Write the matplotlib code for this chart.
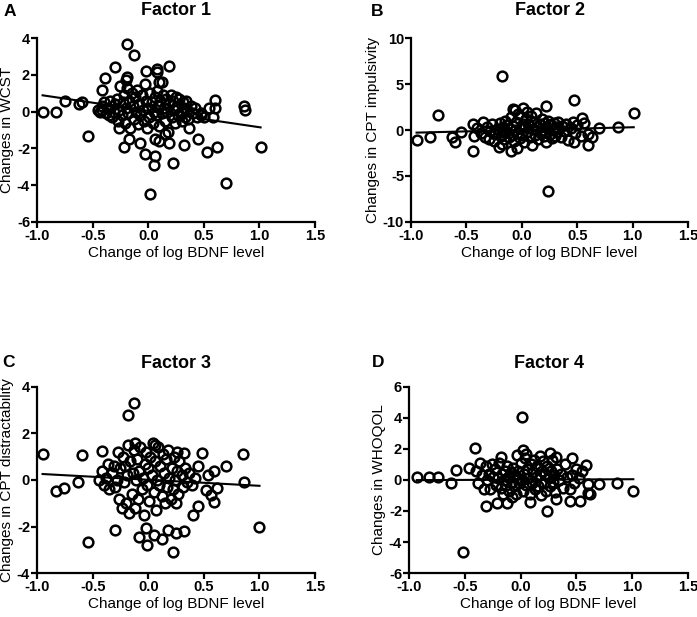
import numpy as np
import matplotlib
matplotlib.use("Agg")
import matplotlib.pyplot as plt

plt.rcParams['font.family'] = ['Liberation Sans', 'DejaVu Sans']

# ---- data: (change of log BDNF, change in score) ----
f1_pts = [(-0.95, 0.0), (-0.83, 0.0), (-0.75, 0.6), (-0.62, 0.4), (-0.60, 0.5), (-0.54, -1.3),
          (-0.42, 1.2), (-0.39, 1.8), (-0.42, 0.1), (-0.30, 2.4), (-0.26, -0.9), (-0.22, -1.9),
          (-0.19, 3.7), (-0.13, 3.1), (-0.19, 1.9), (-0.17, -1.5), (-0.07, -1.7), (-0.02, 2.2),
          (0.08, 2.3), (0.08, 2.15), (0.19, 2.5), (0.12, 1.6), (-0.03, -2.3), (0.06, -2.4),
          (0.05, -2.9), (0.02, -4.5), (0.06, -1.5), (0.10, -1.6), (0.19, -1.7), (0.22, -2.8),
          (0.32, -1.8), (0.37, -0.9), (0.45, -1.5), (0.53, -2.2), (0.62, -1.9), (0.70, -3.9),
          (1.01, -1.9), (0.86, 0.3), (0.87, 0.1), (0.60, 0.65), (0.60, 0.2), (0.55, 0.2),
          (0.58, -0.3), (0.47, -0.1),
          (-0.45, 0.1), (-0.42, 0.3), (-0.40, 0.5), (-0.38, -0.1), (-0.36, 0.2), (-0.34, 0.6),
          (-0.33, -0.3), (-0.31, 0.0), (-0.30, 0.4), (-0.28, 0.7), (-0.27, -0.5), (-0.26, 0.1),
          (-0.25, 1.4), (-0.24, -0.2), (-0.23, 0.5), (-0.22, 0.9), (-0.21, -0.6), (-0.20, 0.2),
          (-0.19, 1.3), (-0.18, -0.1), (-0.17, 0.6), (-0.16, -0.9), (-0.15, 1.0), (-0.14, 0.3),
          (-0.13, -0.4), (-0.12, 0.8), (-0.11, 0.0), (-0.10, 1.2), (-0.09, -0.7), (-0.08, 0.4),
          (-0.07, -0.2), (-0.06, 0.9), (-0.05, 0.1), (-0.04, -0.5), (-0.03, 1.5), (-0.02, 0.6),
          (-0.01, -0.9), (0.00, 0.2), (0.01, -0.3), (0.02, 1.0), (0.03, 0.5), (0.04, -0.6),
          (0.05, 0.0), (0.06, 0.8), (0.07, -0.2), (0.08, 1.1), (0.09, 0.3), (0.10, -0.8),
          (0.11, 0.6), (0.12, -0.1), (0.13, 0.9), (0.14, 0.2), (0.15, -0.5), (0.16, 0.7),
          (0.17, 0.0), (0.18, -1.1), (0.19, 0.4), (0.20, 0.9), (0.21, -0.3), (0.22, 0.6),
          (0.23, 0.1), (0.24, -0.6), (0.25, 0.8), (0.26, 0.3), (0.27, -0.2), (0.28, 0.7),
          (0.29, 0.0), (0.30, -0.5), (0.31, 0.5), (0.32, 0.2), (0.33, -0.3), (0.34, 0.6),
          (0.35, 0.1), (0.36, -0.4), (0.38, 0.3), (0.40, -0.1), (0.42, 0.2), (0.44, -0.3),
          (0.47, -0.2), (0.50, -0.3), (-0.43, 0.0), (-0.35, -0.2), (0.10, 1.6), (-0.20, 1.7),
          (0.15, -1.2)]

f2_pts = [(-0.95, -1.1), (-0.83, -0.8), (-0.76, 1.6), (-0.63, -0.8), (-0.60, -1.3), (-0.55, -0.25),
          (-0.44, -2.25), (-0.44, 0.65), (-0.43, -0.65), (-0.18, 5.9), (-0.06, 2.2), (0.01, 2.35),
          (0.22, 2.65), (0.47, 3.3), (0.24, -6.6), (1.01, 1.9), (0.87, 0.36), (0.70, 0.25),
          (0.60, -1.6), (0.63, -0.8), (0.60, -0.4), (0.54, 1.3), (0.46, 0.9), (0.47, -1.3),
          (-0.18, -1.5), (-0.10, -2.3), (-0.04, -2.0),
          (-0.40, 0.2), (-0.37, -0.3), (-0.35, 0.9), (-0.33, -0.8), (-0.31, 0.3), (-0.29, -0.1),
          (-0.27, 0.6), (-0.25, -1.2), (-0.24, -0.4), (-0.22, 0.1), (-0.21, -1.8), (-0.20, 0.8),
          (-0.19, -0.6), (-0.17, 0.3), (-0.16, -1.0), (-0.15, 1.0), (-0.14, -0.2), (-0.13, 0.5),
          (-0.12, -0.8), (-0.11, 0.1), (-0.10, 1.4), (-0.09, -0.5), (-0.08, 0.4), (-0.07, -1.2),
          (-0.06, 0.0), (-0.05, 0.9), (-0.04, -0.3), (-0.03, 1.7), (-0.02, -0.9), (-0.01, 0.2),
          (0.00, -0.5), (0.01, 0.7), (0.02, -1.3), (0.03, 0.3), (0.04, 1.2), (0.05, -0.2),
          (0.06, 0.6), (0.07, -0.8), (0.08, 1.5), (0.09, -1.6), (0.10, 0.1), (0.11, 0.9),
          (0.12, -0.5), (0.13, 1.9), (0.14, 0.3), (0.15, -1.0), (0.16, 0.6), (0.17, -0.3),
          (0.18, 1.2), (0.19, 0.0), (0.20, -0.7), (0.21, 0.8), (0.22, -1.3), (0.23, 0.2),
          (0.24, 1.0), (0.25, -0.4), (0.26, 0.5), (0.27, -0.9), (0.28, 0.0), (0.29, 0.8),
          (0.30, -0.6), (0.31, 0.3), (0.32, -0.2), (0.33, 0.9), (0.35, -0.8), (0.36, 0.4),
          (0.38, -0.1), (0.40, 0.6), (0.42, -1.1), (0.44, 0.2), (0.48, -0.3), (0.50, 0.5),
          (0.53, -0.6), (0.56, 0.8), (-0.30, -1.0), (-0.18, -0.2), (0.05, 2.0), (-0.08, 2.3)]

f3_pts = [(-0.95, 1.12), (-0.83, -0.46), (-0.76, -0.36), (-0.63, -0.07), (-0.60, 1.08), (-0.54, -2.68),
          (-0.30, -2.15), (-0.42, 1.26), (-0.18, 2.8), (-0.13, 3.33), (-0.08, -2.44), (-0.02, -2.08),
          (-0.01, -2.8), (0.055, -2.37), (0.12, -2.55), (0.18, -2.15), (0.25, -2.3), (0.32, -2.2),
          (0.22, -3.1), (0.40, -1.5), (0.45, -1.12), (0.48, 1.15), (0.70, 0.62), (0.85, 1.12),
          (0.86, -0.07), (1.00, -2.04), (0.59, -0.96), (0.56, -0.65), (0.52, -0.44), (0.62, -0.35),
          (0.54, 0.22), (0.59, 0.4), (0.32, 1.17), (0.26, 1.22),
          (-0.42, 0.4), (-0.40, -0.2), (-0.38, 0.1), (-0.36, 0.7), (-0.35, -0.4), (-0.33, 0.3),
          (-0.31, 0.6), (-0.30, -0.3), (-0.28, 0.0), (-0.27, 1.2), (-0.26, -0.8), (-0.25, 0.5),
          (-0.23, 1.0), (-0.22, -0.1), (-0.21, 0.6), (-0.20, -1.0), (-0.19, 0.2), (-0.18, 1.5),
          (-0.17, -1.4), (-0.16, 0.8), (-0.15, -0.6), (-0.14, 0.3), (-0.13, 1.3), (-0.12, -1.2),
          (-0.11, 0.0), (-0.10, 0.9), (-0.09, -0.8), (-0.08, 0.4), (-0.07, 1.4), (-0.06, -0.4),
          (-0.05, 0.1), (-0.04, -1.5), (-0.03, 0.7), (-0.02, 1.2), (-0.01, -0.2), (0.00, 0.5),
          (0.01, -0.9), (0.02, 1.0), (0.03, 0.2), (0.04, 1.6), (0.05, -0.5), (0.06, 0.8),
          (0.07, -1.3), (0.08, 0.0), (0.09, 1.4), (0.10, -0.2), (0.11, 0.6), (0.12, -0.7),
          (0.13, 1.1), (0.14, 0.3), (0.15, -1.0), (0.16, 0.9), (0.17, -0.3), (0.18, 1.3),
          (0.19, 0.1), (0.20, -0.8), (0.21, 0.5), (0.22, -0.4), (0.23, 1.0), (0.24, 0.0),
          (0.25, -1.0), (0.26, 0.4), (0.27, -0.6), (0.28, 0.8), (0.30, 0.2), (0.31, -0.3),
          (0.33, 0.5), (0.35, -0.1), (0.37, 0.3), (0.39, -0.2), (0.42, 0.1), (0.45, 0.6),
          (-0.44, 0.0), (-0.12, 1.6), (0.06, 1.5), (-0.24, -1.2)]

f4_pts = [(-0.93, 0.21), (-0.82, 0.21), (-0.74, 0.21), (-0.62, -0.2), (-0.58, 0.65), (-0.52, -4.62),
          (-0.41, 2.09), (-0.46, 0.8), (-0.31, -1.66), (-0.21, -1.5), (-0.12, -1.5), (0.015, 4.04),
          (0.08, -1.4), (0.24, -1.98), (0.32, -1.25), (0.44, -1.35), (0.53, -1.33), (0.62, -0.93),
          (0.60, -0.85), (0.70, -0.28), (0.86, -0.17), (1.01, -0.71), (0.59, 0.97), (0.46, 1.4),
          (0.55, 0.58), (0.60, -0.28), (0.26, 1.72), (0.32, 1.5), (0.17, 1.57), (0.02, 1.94),
          (-0.03, 1.61), (-0.18, 1.5),
          (-0.40, 0.6), (-0.38, -0.2), (-0.36, 1.1), (-0.35, 0.3), (-0.33, -0.6), (-0.31, 0.9),
          (-0.30, 0.0), (-0.28, 0.4), (-0.27, -0.6), (-0.25, 0.2), (-0.23, 0.7), (-0.22, -0.3),
          (-0.20, 0.1), (-0.19, 1.1), (-0.18, -0.5), (-0.17, 0.4), (-0.16, -0.9), (-0.15, 0.0),
          (-0.14, 0.6), (-0.13, -0.3), (-0.12, 0.9), (-0.11, 0.2), (-0.10, -0.7), (-0.09, 0.5),
          (-0.08, -0.1), (-0.07, 0.8), (-0.06, -0.4), (-0.05, 0.3), (-0.04, -0.9), (-0.03, 0.1),
          (-0.02, 0.6), (-0.01, -0.2), (0.00, 1.1), (0.01, 0.0), (0.02, -0.7), (0.03, 0.4),
          (0.04, 1.4), (0.05, -0.3), (0.06, 0.7), (0.07, 0.1), (0.08, -0.9), (0.09, 1.0),
          (0.10, -0.2), (0.11, 0.5), (0.12, 1.3), (0.13, -0.6), (0.14, 0.2), (0.15, 0.9),
          (0.16, -0.4), (0.17, 0.3), (0.18, -1.0), (0.19, 0.6), (0.20, 1.2), (0.21, -0.2),
          (0.22, 0.4), (0.23, -0.7), (0.24, 0.9), (0.25, 0.1), (0.26, -0.4), (0.27, 0.6),
          (0.28, 1.3), (0.29, -0.1), (0.30, 0.3), (0.31, -0.8), (0.33, 0.7), (0.34, 0.0),
          (0.36, 0.4), (0.38, -0.5), (0.40, 1.0), (0.42, 0.2), (0.44, -0.6), (0.46, 0.3),
          (0.48, -0.2), (0.50, 0.7), (0.52, 0.1), (-0.26, 1.0), (0.05, 1.7), (-0.08, -1.1)]

# regression lines as drawn (slope, intercept)
fits = [(-0.89, 0.04), (0.30, 0.0), (-0.26, 0.01), (0.03, 0.02)]

titles = ['Factor 1', 'Factor 2', 'Factor 3', 'Factor 4']
letters = ['A', 'B', 'C', 'D']
ylabels = ['Changes in WCST', 'Changes in CPT impulsivity',
           'Changes in CPT distractability', 'Changes in WHOQOL']
ylims = [(-6, 4), (-10, 10), (-4, 4), (-6, 6)]
yticks = [[-6, -4, -2, 0, 2, 4], [-10, -5, 0, 5, 10],
          [-4, -2, 0, 2, 4], [-6, -4, -2, 0, 2, 4, 6]]
xticks = [-1.0, -0.5, 0.0, 0.5, 1.0, 1.5]
xlabel = 'Change of log BDNF level'

# axes boxes in figure fraction (left, bottom, width, height)
boxes = [(0.0531, 0.6402, 0.399, 0.2982), (0.5897, 0.6402, 0.3974, 0.2982),
         (0.0531, 0.0713, 0.399, 0.3015), (0.5868, 0.0713, 0.4003, 0.3015)]
title_pads = [16.5, 16.5, 13.5, 13.5]
letter_pos = [(-0.122, 1.145), (-0.145, 1.145), (-0.125, 1.134), (-0.133, 1.134)]

fig = plt.figure(figsize=(6.97, 6.17), dpi=100)

for i, pts in enumerate([f1_pts, f2_pts, f3_pts, f4_pts]):
    ax = fig.add_axes(boxes[i])
    x, y = np.array(pts).T
    ax.plot(x, y, 'o', ms=7, mfc='none', mec='black', mew=1.8, clip_on=False)

    slope, icpt = fits[i]
    xl = np.array([x.min(), x.max()])
    ax.plot(xl, slope * xl + icpt, color='black', lw=1.5)

    ax.set_xlim(-1.0, 1.5)
    ax.set_ylim(*ylims[i])
    ax.set_xticks(xticks)
    ax.set_xticklabels(['%.1f' % t for t in xticks], fontweight='bold', fontsize=10.5)
    ax.set_yticks(yticks[i])
    ax.set_yticklabels([str(t) for t in yticks[i]], fontweight='bold', fontsize=10.5)
    for s in ['top', 'right']:
        ax.spines[s].set_visible(False)
    for s in ['left', 'bottom']:
        ax.spines[s].set_linewidth(1.6)
    ax.tick_params(width=1.6, length=4, pad=1)

    ax.set_title(titles[i], fontsize=13, fontweight='bold', pad=title_pads[i])
    ax.set_ylabel(ylabels[i], fontsize=11, labelpad=2)
    ax.set_xlabel(xlabel, fontsize=11, labelpad=2)
    lx, ly = letter_pos[i]
    ax.text(lx, ly, letters[i], transform=ax.transAxes, fontsize=12.5,
            fontweight='bold', ha='left', va='center')

fig.savefig('out.png', dpi=100)
